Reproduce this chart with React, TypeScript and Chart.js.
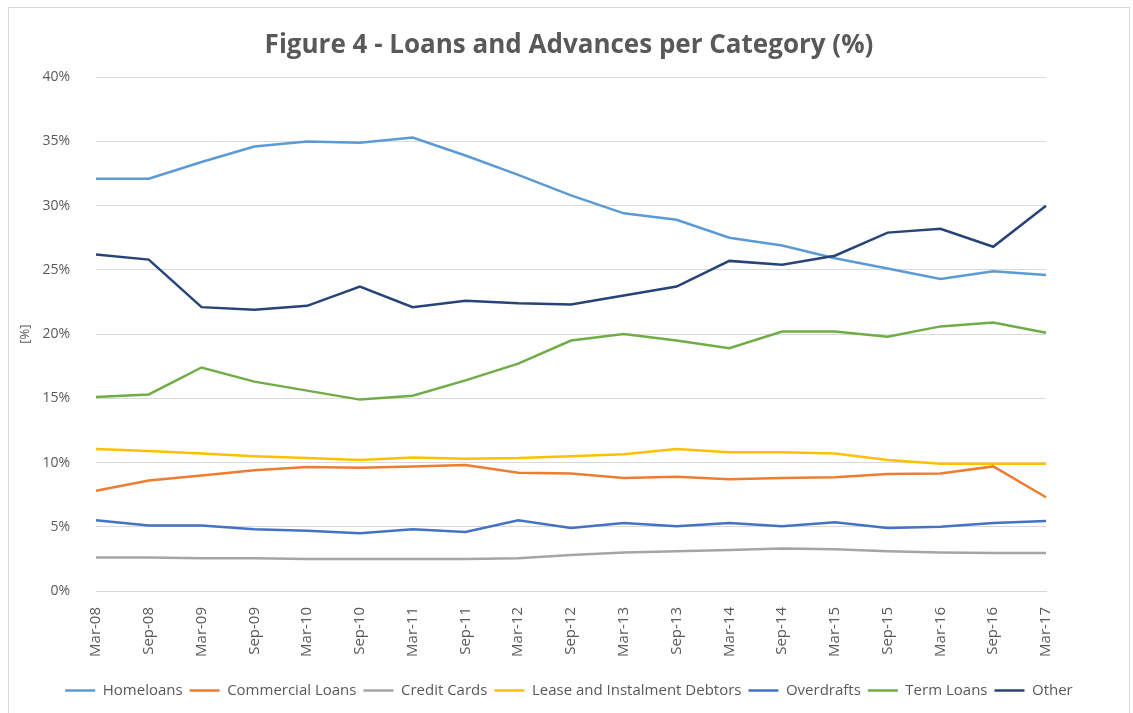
import { useEffect, useRef } from "react";
import { Chart, registerables } from "chart.js";

Chart.register(...registerables);

const categories = [
  "Mar-08", "Sep-08", "Mar-09", "Sep-09", "Mar-10", "Sep-10", "Mar-11", "Sep-11", "Mar-12", "Sep-12",
  "Mar-13", "Sep-13", "Mar-14", "Sep-14", "Mar-15", "Sep-15", "Mar-16", "Sep-16", "Mar-17",
];
const homeloans = [32.1, 32.1, 33.4, 34.6, 35.0, 34.9, 35.3, 33.9, 32.4, 30.8, 29.4, 28.9, 27.5, 26.9, 25.9, 25.1, 24.3, 24.9, 24.6];
const commercialLoans = [7.8, 8.6, 9.0, 9.4, 9.65, 9.6, 9.7, 9.8, 9.2, 9.15, 8.8, 8.9, 8.7, 8.8, 8.85, 9.1, 9.15, 9.7, 7.3];
const creditCards = [2.6, 2.6, 2.55, 2.55, 2.5, 2.5, 2.5, 2.5, 2.55, 2.8, 3.0, 3.1, 3.2, 3.3, 3.25, 3.1, 3.0, 2.95, 2.95];
const leaseDebtors = [11.05, 10.9, 10.7, 10.5, 10.35, 10.2, 10.4, 10.3, 10.35, 10.5, 10.65, 11.05, 10.8, 10.8, 10.7, 10.2, 9.9, 9.9, 9.9];
const overdrafts = [5.5, 5.1, 5.1, 4.8, 4.7, 4.5, 4.8, 4.6, 5.5, 4.9, 5.3, 5.05, 5.3, 5.05, 5.35, 4.9, 5.0, 5.3, 5.45];
const termLoans = [15.1, 15.3, 17.4, 16.3, 15.6, 14.9, 15.2, 16.4, 17.7, 19.5, 20.0, 19.5, 18.9, 20.2, 20.2, 19.8, 20.6, 20.9, 20.1];
const other = [26.2, 25.8, 22.1, 21.9, 22.2, 23.7, 22.1, 22.6, 22.4, 22.3, 23.0, 23.7, 25.7, 25.4, 26.1, 27.9, 28.2, 26.8, 30.0];

const seriesNames = ["Homeloans", "Commercial Loans", "Credit Cards", "Lease and Instalment Debtors", "Overdrafts", "Term Loans", "Other"];
const seriesData = [homeloans, commercialLoans, creditCards, leaseDebtors, overdrafts, termLoans, other];
const seriesColors = ["#5B9BD5", "#ED7D31", "#A5A5A5", "#FFC000", "#4472C4", "#70AD47", "#264478"];

const yTicks = [0, 5, 10, 15, 20, 25, 30, 35, 40];

const FONT = "'Open Sans', sans-serif";

export default function App() {
  const ref = useRef<HTMLCanvasElement>(null);

  useEffect(() => {
    const chart = new Chart(ref.current!, {
      type: "line",
      data: {
        labels: categories,
        datasets: seriesNames.map((name, i) => ({
          label: name,
          data: seriesData[i],
          borderColor: seriesColors[i],
          backgroundColor: seriesColors[i],
          borderWidth: 2.5,
          pointRadius: 0,
          pointStyle: "line",
          tension: 0,
          order: seriesNames.length - i,
          yAxisID: "y",
        })),
      },
      options: {
        responsive: false,
        animation: false,
        layout: { padding: { left: 0, right: 0, top: 0, bottom: 0 } },
        plugins: {
          title: {
            display: true,
            text: "Figure 4 - Loans and Advances per Category (%)",
            color: "#595959",
            font: { family: FONT, size: 26, weight: "bold", lineHeight: 1.2 },
            padding: { top: 22, bottom: 16 },
          },
          legend: {
            position: "bottom",
            labels: {
              usePointStyle: true,
              pointStyleWidth: 30,
              padding: 7,
              color: "#595959",
              font: { family: FONT, size: 15 },
              sort: (a: any, b: any) => a.datasetIndex - b.datasetIndex,
            },
          },
          tooltip: { enabled: false },
        },
        scales: {
          x: {
            offset: false,
            grid: { display: false, drawTicks: false },
            border: { display: true, color: "#d9d9d9" },
            ticks: {
              autoSkip: false,
              maxRotation: 90,
              minRotation: 90,
              padding: 16,
              color: "#595959",
              font: { family: FONT, size: 15 },
            },
            afterFit: (scale: any) => {
              scale.height = 85;
            },
          },
          y: {
            min: 0,
            max: 40,
            afterBuildTicks: (scale: any) => {
              scale.ticks = yTicks.map((v) => ({ value: v }));
            },
            grid: { color: "#d9d9d9", drawTicks: false },
            border: { display: false },
            ticks: {
              padding: 26,
              color: "#595959",
              font: { family: FONT, size: 14 },
              callback: (v: any) => v + "%",
            },
            title: {
              display: true,
              text: "[%]",
              color: "#595959",
              font: { family: FONT, size: 13, lineHeight: 1.2 },
              padding: { top: 8, bottom: 0 },
            },
            afterFit: (scale: any) => {
              scale.width = 87;
            },
          },
          yRight: {
            position: "right",
            min: 0,
            max: 40,
            grid: { display: false, drawTicks: false },
            border: { display: false },
            ticks: { display: false },
            afterFit: (scale: any) => {
              scale.width = 83;
            },
          },
        },
      },
    });
    return () => chart.destroy();
  }, []);

  return (
    <div
      style={{
        position: "fixed",
        left: 8,
        top: 7,
        width: 1122,
        height: 720,
        border: "1px solid #d9d9d9",
        boxSizing: "border-box",
        background: "#fff",
      }}
    >
      <canvas ref={ref} width={1120} height={700} style={{ display: "block", width: 1120, height: 700 }} />
    </div>
  );
}
